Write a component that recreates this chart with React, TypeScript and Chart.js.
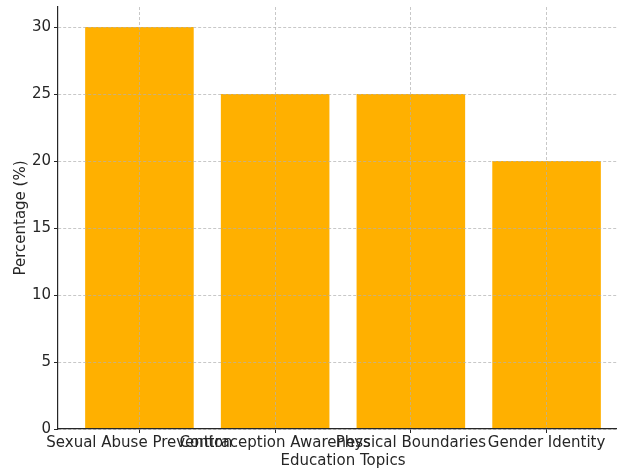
import React, { useEffect, useRef } from "react";
import { Chart, registerables } from "chart.js";

Chart.register(...registerables);

const categories = [
  "Sexual Abuse Prevention",
  "Contraception Awareness",
  "Physical Boundaries",
  "Gender Identity",
];
const percentages = [30, 25, 25, 20];
const yTicks = [0, 5, 10, 15, 20, 25, 30];

const FONT = "'DejaVu Sans', sans-serif";
const TEXT = "#262626";
const GRID = "rgba(176,176,176,0.7)";
const FS = 15;

export default function App() {
  const ref = useRef<HTMLCanvasElement>(null);
  useEffect(() => {
    if (!ref.current) return;
    const chart = new Chart(ref.current, {
      type: "bar",
      data: {
        datasets: [
          {
            label: "Percentage",
            data: percentages.map((v, i) => ({ x: i, y: v })),
            backgroundColor: "#FFB000",
            borderWidth: 0,
            barPercentage: 0.8,
            categoryPercentage: 1,
          },
        ],
      },
      options: {
        responsive: false,
        animation: false,
        devicePixelRatio: 1,
        layout: { padding: { top: 7, left: 0, right: 0, bottom: 0 } },
        plugins: { legend: { display: false }, tooltip: { enabled: false } },
        scales: {
          x: {
            type: "linear",
            min: -0.6,
            max: 3.6,
            offset: false,
            afterBuildTicks: (s: any) => {
              s.ticks = categories.map((_, i) => ({ value: i }));
            },
            afterFit: (s: any) => {
              s.height = 41;
              s.paddingLeft = 0;
              s.paddingRight = 0;
            },
            grid: {
              z: 1,
              offset: false,
              color: GRID,
              tickColor: TEXT,
              tickBorderDash: [],
              tickLength: 4,
              drawTicks: true,
            },
            border: { display: true, color: TEXT, width: 1.2, dash: [3, 2], z: 2 },
            ticks: {
              autoSkip: false,
              maxRotation: 0,
              minRotation: 0,
              padding: 1,
              color: TEXT,
              font: { family: FONT, size: FS },
              callback: (v: any) => categories[v as number] ?? "",
            },
            title: {
              display: true,
              text: "Education Topics",
              color: TEXT,
              font: { family: FONT, size: FS },
              padding: { top: 0, bottom: 0 },
            },
          },
          y: {
            min: 0,
            max: 31.5,
            afterBuildTicks: (s: any) => {
              s.ticks = yTicks.map((v) => ({ value: v }));
            },
            afterFit: (s: any) => {
              s.width = 58;
              s.paddingTop = 0;
              s.paddingBottom = 0;
            },
            grid: {
              z: 1,
              color: GRID,
              tickColor: TEXT,
              tickBorderDash: [],
              tickLength: 4,
            },
            border: { display: true, color: TEXT, width: 1.2, dash: [3, 2], z: 2 },
            ticks: {
              padding: 3,
              color: TEXT,
              font: { family: FONT, size: FS },
            },
            title: {
              display: true,
              text: "Percentage (%)",
              color: TEXT,
              font: { family: FONT, size: FS },
              padding: { top: 12, bottom: 0 },
            },
          },
        },
      },
    });
    return () => chart.destroy();
  }, []);
  return (
    <div
      style={{
        position: "fixed",
        left: 0,
        top: 0,
        width: 617,
        height: 470,
        overflow: "hidden",
        background: "#fff",
      }}
    >
      <canvas ref={ref} width={628} height={470} style={{ display: "block" }} />
    </div>
  );
}
